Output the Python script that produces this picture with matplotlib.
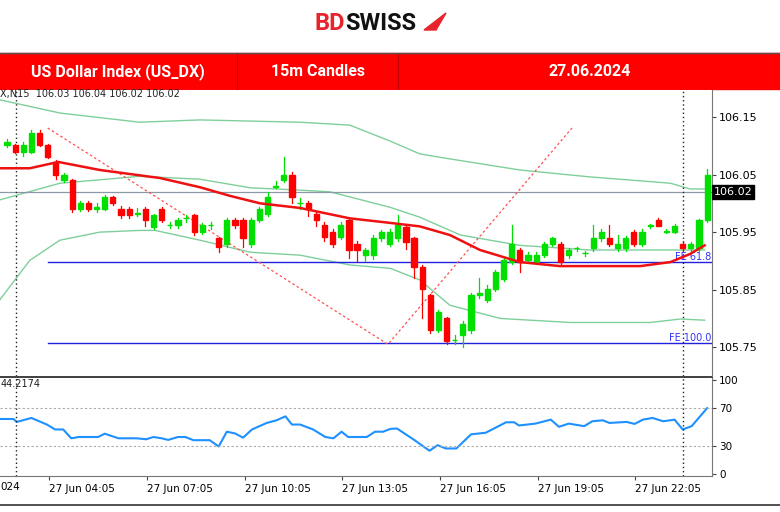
import matplotlib
matplotlib.use("Agg")
import matplotlib.pyplot as plt
from matplotlib.patches import Rectangle, Polygon

# ---------------- data ----------------
opens = [106.101,106.101,106.090,106.090,106.122,106.101,106.072,106.040,106.040,105.991,
         106.000,105.991,105.991,106.011,105.991,105.991,105.982,105.991,105.959,105.991,
         105.962,105.962,105.974,105.979,105.951,105.962,105.939,105.930,105.971,105.971,
         105.930,105.971,105.982,106.029,106.040,106.049,106.000,106.000,105.982,105.962,
         105.951,105.942,105.971,105.930,105.910,105.910,105.939,105.930,105.939,105.959,
         105.939,105.890,105.840,105.780,105.800,105.762,105.771,105.780,105.840,105.832,
         105.852,105.869,105.898,105.919,105.901,105.898,105.910,105.930,105.930,105.910,
         105.922,105.913,105.922,105.939,105.939,105.922,105.922,105.951,105.930,105.961,
         105.971,105.951,105.951,105.930,105.922,105.922,105.971]
closes = [106.107,106.090,106.101,106.122,106.101,106.081,106.049,106.049,105.991,106.000,
          105.991,105.993,106.011,106.000,105.979,105.979,105.983,105.971,105.979,105.971,
          105.963,105.971,105.975,105.951,105.962,105.963,105.924,105.971,105.962,105.939,
          105.971,105.991,106.011,106.030,106.049,106.011,106.001,105.990,105.971,105.942,
          105.930,105.962,105.919,105.919,105.919,105.939,105.951,105.951,105.962,105.933,
          105.890,105.852,105.780,105.811,105.760,105.763,105.791,105.840,105.845,105.852,
          105.881,105.901,105.930,105.898,105.910,105.910,105.930,105.939,105.898,105.919,
          105.923,105.914,105.939,105.951,105.930,105.930,105.939,105.930,105.951,105.962,
          105.961,105.952,105.961,105.922,105.930,105.971,106.049]
highs = [106.112,106.103,106.106,106.127,106.127,106.104,106.076,106.052,106.042,106.004,
         106.004,106.000,106.014,106.013,105.995,105.994,105.992,105.994,105.982,105.994,
         105.968,105.974,105.980,105.982,105.966,105.968,105.942,105.974,105.974,105.974,
         105.974,105.994,106.020,106.038,106.080,106.054,106.009,106.004,105.985,105.967,
         105.955,105.968,105.973,105.934,105.923,105.945,105.954,105.955,105.980,105.962,
         105.942,105.893,105.843,105.815,105.803,105.771,105.795,105.844,105.870,105.858,
         105.885,105.905,105.963,105.922,105.915,105.915,105.933,105.942,105.933,105.922,
         105.925,105.918,105.962,105.955,105.963,105.945,105.944,105.953,105.955,105.965,
         105.974,105.955,105.964,105.934,105.932,105.973,106.060]
lows = [106.098,106.087,106.082,106.088,106.099,106.078,106.042,106.037,105.985,105.986,
        105.986,105.985,105.988,105.997,105.974,105.975,105.978,105.960,105.955,105.967,
        105.958,105.958,105.968,105.945,105.946,105.955,105.915,105.925,105.958,105.925,
        105.925,105.968,105.978,106.026,106.037,106.000,105.990,105.978,105.960,105.935,
        105.925,105.938,105.905,105.900,105.900,105.903,105.935,105.926,105.935,105.920,
        105.870,105.800,105.775,105.776,105.755,105.755,105.750,105.775,105.835,105.828,
        105.848,105.865,105.895,105.880,105.898,105.895,105.907,105.926,105.895,105.905,
        105.918,105.908,105.918,105.935,105.926,105.918,105.918,105.926,105.926,105.958,
        105.966,105.948,105.948,105.918,105.918,105.918,105.967]

upper_x = [-0.9,6.5,16.3,23.7,36.0,42.1,47.1,50.7,53.2,63.0,71.6,81.5,83.9,85.7]
upper_y = [106.180,106.157,106.141,106.145,106.141,106.136,106.108,106.086,106.080,106.058,106.046,106.035,106.025,106.025]
mid_x = [-0.9,6.5,16.3,23.7,29.9,36.0,39.7,47.1,50.7,55.7,63.0,71.6,81.5,85.7]
mid_y = [106.006,106.035,106.047,106.042,106.027,106.023,106.020,105.993,105.976,105.945,105.927,105.919,105.919,105.919]
low_x = [-0.9,2.8,6.5,11.4,16.3,18.2,23.7,29.9,36.0,42.1,47.1,50.7,54.4,60.6,69.2,79.0,82.7,85.7]
low_y = [105.832,105.901,105.936,105.950,105.953,105.953,105.936,105.915,105.910,105.893,105.887,105.867,105.823,105.800,105.793,105.793,105.799,105.797]
ma_x = [-0.9,2.8,6.3,11.4,18.8,23.7,27.4,31.1,36.0,42.1,47.1,50.7,54.4,58.1,63.0,67.9,72.8,77.8,81.5,83.9,85.7]
ma_y = [106.061,106.061,106.072,106.058,106.044,106.028,106.013,106.000,105.992,105.974,105.966,105.960,105.945,105.919,105.898,105.891,105.891,105.891,105.898,105.912,105.927]

rsi_x = [-0.9,0.8,1.2,3.0,4.9,5.9,6.9,7.9,8.8,11.2,12.0,13.7,15.9,17.1,18.0,19.0,19.8,21.0,21.9,22.9,
         24.9,26.0,27.0,28.0,29.0,30.1,31.9,33.1,34.2,35.0,36.0,37.6,39.1,40.1,41.1,41.9,44.2,45.2,46.2,47.1,
         47.9,49.9,51.9,52.9,53.9,55.2,57.0,58.8,61.3,62.3,62.9,64.9,66.8,67.8,69.0,70.9,71.9,73.2,74.0,76.1,
         77.1,78.1,79.3,80.6,82.0,83.0,84.1,86.0]
rsi_y = [58.5,58.5,55.4,59.6,52.6,47.4,47.4,38.0,39.4,39.4,42.9,38.0,38.0,37.0,39.4,38.0,36.3,39.4,39.4,36.0,
         36.0,29.3,45.0,43.2,38.7,47.4,54.3,57.1,61.3,52.6,52.6,47.4,39.4,38.0,45.0,39.4,39.4,45.0,45.0,48.0,
         48.4,37.0,24.8,30.7,27.2,27.2,42.2,43.9,55.0,55.0,51.6,53.6,57.8,50.2,53.6,50.9,56.1,57.1,54.3,55.4,
         53.3,57.8,59.6,56.1,57.8,47.4,50.9,70.0]

price_ticks = [105.75, 105.85, 105.95, 106.05, 106.15]
rsi_ticks = [0, 30, 70, 100]
time_tick_pos = [5.2, 17.2, 29.2, 41.2, 53.2, 65.2, 77.2]
time_labels = ["27 Jun 04:05", "27 Jun 07:05", "27 Jun 10:05", "27 Jun 13:05",
               "27 Jun 16:05", "27 Jun 19:05", "27 Jun 22:05"]
last_price = 106.02
fe618 = 105.898
fe100 = 105.757
fibo_x = [5.0, 46.8, 69.4]
fibo_y = [106.131, 105.755, 106.131]

# ---------------- figure ----------------
W, H = 780, 512
fig = plt.figure(figsize=(7.8, 5.12), dpi=100)
fig.patch.set_facecolor("white")
plt.rcParams['font.family'] = ['DejaVu Sans']

def ax_rect(x0, y0, x1, y1):
    return [x0 / W, 1 - y1 / H, (x1 - x0) / W, (y1 - y0) / H]

# header
hdr = fig.add_axes([0, 0, 1, 1], zorder=-1)
hdr.set_xlim(0, W); hdr.set_ylim(H, 0); hdr.axis("off")
hdr.add_patch(Rectangle((0, 53), 780, 36, color="#fe0000"))
hdr.plot([237, 237], [53, 89], color="#c00000", lw=0.8)
hdr.plot([398, 398], [53, 89], color="#c00000", lw=0.8)
hdr.plot([0, 780], [53, 53], color="#555555", lw=1)
hdr.text(118, 72, "US Dollar Index (US_DX)", color="white", fontsize=11.5, fontweight="bold",
         ha="center", va="center", family="Roboto")
hdr.text(318, 72, "15m Candles", color="white", fontsize=11.5, fontweight="bold",
         ha="center", va="center", family="Roboto")
hdr.text(590, 72, "27.06.2024", color="white", fontsize=11.5, fontweight="bold",
         ha="center", va="center", family="Roboto")
hdr.text(345, 23, "BD", color="#e5242b", fontsize=17, fontweight="bold", ha="right",
         va="center", family="Roboto")
hdr.text(345, 23, "SWISS", color="#111111", fontsize=17, fontweight="bold", ha="left",
         va="center", family="Roboto")
hdr.add_patch(Polygon([[424, 30], [446, 13], [436, 30]], color="#e5242b"))
hdr.plot([0, 780], [505, 505], color="#333333", lw=1.2)
hdr.plot([0, 712], [377, 377], color="#444444", lw=1.5)

# main axes
ax = fig.add_axes(ax_rect(0, 90, 712, 376))
ax.set_xlim(-0.86, 86.6)
ax.set_ylim(105.700, 106.197)
for i, (o, c, h, l) in enumerate(zip(opens, closes, highs, lows)):
    col = "#00e000" if c >= o else "#ff0000"
    ax.plot([i, i], [l, h], color=col, lw=0.9, zorder=3)
    ax.add_patch(Rectangle((i - 0.32, min(o, c)), 0.64, max(abs(c - o), 0.0012),
                           color=col, zorder=4))
band = "#7fcf9a"
ax.plot(upper_x, upper_y, color=band, lw=1)
ax.plot(mid_x, mid_y, color=band, lw=1)
ax.plot(low_x, low_y, color=band, lw=1)
ax.plot(ma_x, ma_y, color="#ee1111", lw=1.8, zorder=5)
ax.axhline(last_price, color="#8a99a8", lw=0.9)
ax.plot([fibo_x[0], 86.6], [fe618, fe618], color="#2020e0", lw=1)
ax.plot([fibo_x[0], 86.6], [fe100, fe100], color="#2020e0", lw=1)
ax.plot(fibo_x, fibo_y, color="#ff5050", lw=0.9, ls=(0, (2, 2)))
ax.text(86.5, fe618, "FE 61.8", color="#3030ff", fontsize=7, ha="right", va="bottom")
ax.text(86.5, fe100, "FE 100.0", color="#3030ff", fontsize=7, ha="right", va="bottom")
for vx in [1.1, 83.0]:
    ax.axvline(vx, color="#222222", lw=1, ls=(0, (1, 2)))
ax.text(-0.8, 106.19, "X,N15  106.03 106.04 106.02 106.02", fontsize=7, color="#222222",
        va="center")
ax.yaxis.tick_right()
ax.set_yticks(price_ticks)
ax.set_yticklabels([f"{v:.2f}" for v in price_ticks], fontsize=8)
ax.tick_params(axis="y", length=3, color="#444444", pad=2)
ax.set_xticks([])
for s in ["top", "left", "bottom"]:
    ax.spines[s].set_visible(False)
ax.spines["right"].set_color("#777777")
ax.text(1.002, (last_price - 105.700) / (106.197 - 105.700), f"{last_price:.2f}",
        transform=ax.transAxes, fontsize=8, color="white", va="center", ha="left",
        bbox=dict(facecolor="black", edgecolor="black", pad=1.2))

# RSI axes
rx = fig.add_axes(ax_rect(0, 378, 712, 476))
rx.set_xlim(-0.86, 86.6)
rx.set_ylim(-2, 102)
rx.plot(rsi_x, rsi_y, color="#1e90ff", lw=1.5)
for lv in [70, 30]:
    rx.axhline(lv, color="#aaaaaa", lw=0.8, ls=(0, (2, 2)))
for vx in [1.1, 83.0]:
    rx.axvline(vx, color="#222222", lw=1, ls=(0, (1, 2)))
rx.text(-0.8, 96, "44.2174", fontsize=7, color="#222222", va="center")
rx.yaxis.tick_right()
rx.set_yticks(rsi_ticks)
rx.set_yticklabels([str(v) for v in rsi_ticks], fontsize=7.5)
rx.tick_params(axis="y", length=3, color="#444444", pad=2)
rx.set_xticks(time_tick_pos)
rx.set_xticklabels(time_labels, fontsize=7.5, ha="left")
rx.tick_params(axis="x", length=3, color="#444444", pad=3)
rx.text(-0.86, -0.13, "024", transform=rx.get_yaxis_transform() if False else rx.transData,
        fontsize=7.5, va="top") if False else None
fig.text(0, 1 - 487 / H, "024", fontsize=7.5, va="center", ha="left")
for s in ["top", "left"]:
    rx.spines[s].set_visible(False)
rx.spines["right"].set_color("#777777")
rx.spines["bottom"].set_color("#777777")

fig.savefig("out.png", dpi=100)
